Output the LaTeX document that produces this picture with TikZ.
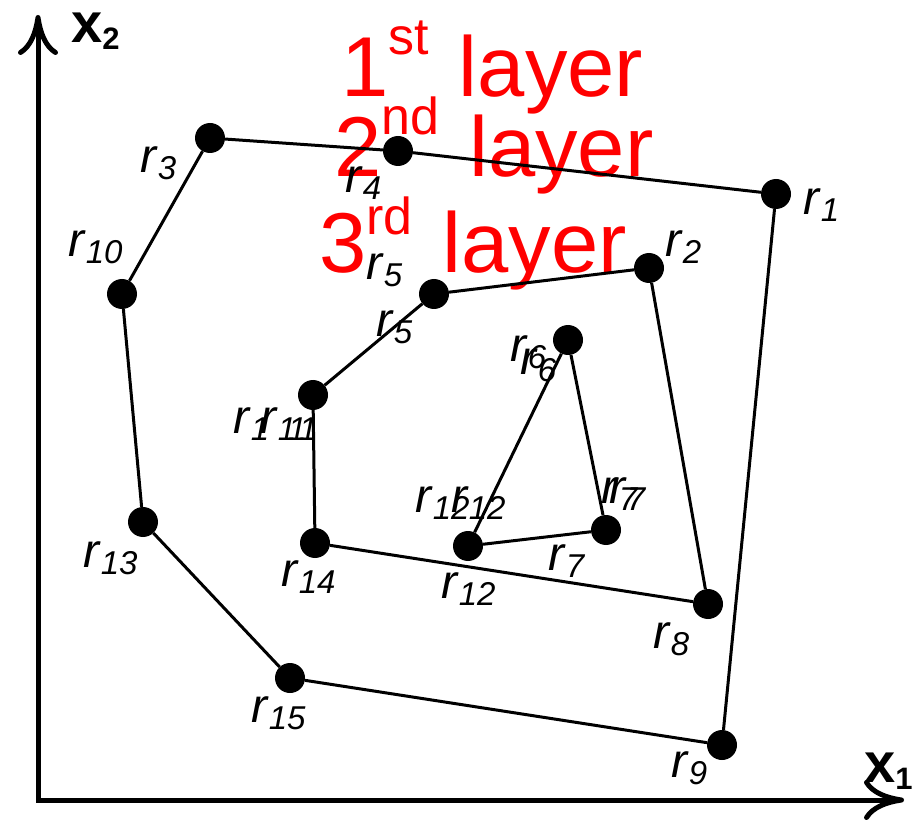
\documentclass[tikz,border=0pt]{standalone}
\usepackage{fontspec}
\setmainfont{Liberation Sans}
\usetikzlibrary{arrows.meta}
\newcommand{\rlab}[1]{\textit{r}\raisebox{-7pt}{\fontsize{33}{33}\selectfont\textit{#1}}}
\newcommand{\ordl}[3]{#1\raisebox{#3}{\fontsize{52}{52}\selectfont #2}\hspace{30pt}layer}
\newcommand{\axl}[1]{\textbf{x}\raisebox{-7pt}{\fontsize{31}{31}\selectfont\textbf{#1}}}
\begin{document}
\begin{tikzpicture}[x=1pt,y=-1pt,
  pt/.style={circle,fill=black,inner sep=0pt,minimum size=30pt},
  edge/.style={line width=3pt,line join=round},
  lab/.style={anchor=base west,inner sep=0pt,font=\fontsize{48}{48}\selectfont},
  layertxt/.style={anchor=base west,inner sep=0pt,text=red,font=\fontsize{85}{85}\selectfont},
  axlab/.style={anchor=base west,inner sep=0pt,font=\fontsize{56}{56}\selectfont},
  axis/.style={line width=5pt,line join=miter,
    {Computer Modern Rightarrow[length=40pt 0 0,width=40pt 0 0]}-{Computer Modern Rightarrow[length=40pt 0 0,width=40pt 0 0]}}]
\useasboundingbox (0,0) rectangle (922,821);
% axes
\coordinate (ytop) at (38,15);
\coordinate (O) at (38,800);
\coordinate (xend) at (904,800);
\draw[axis] (ytop) -- (O) -- (xend);
\node[axlab] (x2) at (71,43) {\axl{2}};
\node[axlab] (x1) at (864,782) {\axl{1}};
% layer texts
\node[layertxt] (t1) at (341,97) {\ordl{1}{st}{42pt}};
\node[layertxt] (t2) at (334,177) {\ordl{2}{nd}{42pt}};
\node[layertxt] (t3) at (319,273) {\ordl{3}{rd}{38pt}};
% points
\node[pt] (r1) at (776,194) {};
\node[pt] (r2) at (649,268) {};
\node[pt] (r3) at (210,138) {};
\node[pt] (r4) at (398,151) {};
\node[pt] (r5) at (434,294) {};
\node[pt] (r6) at (568,340) {};
\node[pt] (r7) at (606,530) {};
\node[pt] (r8) at (708,604) {};
\node[pt] (r9) at (722,745) {};
\node[pt] (r10) at (122,294) {};
\node[pt] (r11) at (313,395) {};
\node[pt] (r12) at (468,546) {};
\node[pt] (r13) at (143,522) {};
\node[pt] (r14) at (315,543) {};
\node[pt] (r15) at (290,678) {};
% polygons
\draw[edge] (r3) -- (r4) -- (r1) -- (r9) -- (r15) -- (r13) -- (r10) -- (r3);
\draw[edge] (r2) -- (r5) -- (r11) -- (r14) -- (r8) -- (r2);
\draw[edge] (r6) -- (r12) -- (r7) -- (r6);
% labels
\node[lab] (l1) at (803,215) {\rlab{1}};
\node[lab] (l2) at (665,257) {\rlab{2}};
\node[lab] (l3) at (140,173) {\rlab{3}};
\node[lab] (l4) at (345,193) {\rlab{4}};
\node[lab] (l5a) at (366,280) {\rlab{5}};
\node[lab] (l5b) at (376,337) {\rlab{5}};
\node[lab] (l6a) at (510,362) {\rlab{6}};
\node[lab] (l6b) at (520,374) {\rlab{6}};
\node[lab] (l7a) at (601,503) {\rlab{7}};
\node[lab] (l7b) at (609,503) {\rlab{7}};
\node[lab] (l7c) at (548,570) {\rlab{7}};
\node[lab] (l8) at (653,648) {\rlab{8}};
\node[lab] (l9) at (671,777) {\rlab{9}};
\node[lab] (l10) at (68,257) {\rlab{10}};
\node[lab] (l11a) at (233,433) {\rlab{1\kern30pt 1}};
\node[lab] (l11b) at (260,433) {\rlab{1\kern-8pt 1}};
\node[lab] (l12a) at (415,512) {\rlab{12}};
\node[lab] (l12b) at (451,512) {\rlab{12}};
\node[lab] (l12c) at (441,598) {\rlab{12}};
\node[lab] (l13) at (83,567) {\rlab{13}};
\node[lab] (l14) at (281,586) {\rlab{14}};
\node[lab] (l15) at (251,722) {\rlab{15}};
\end{tikzpicture}
\end{document}
